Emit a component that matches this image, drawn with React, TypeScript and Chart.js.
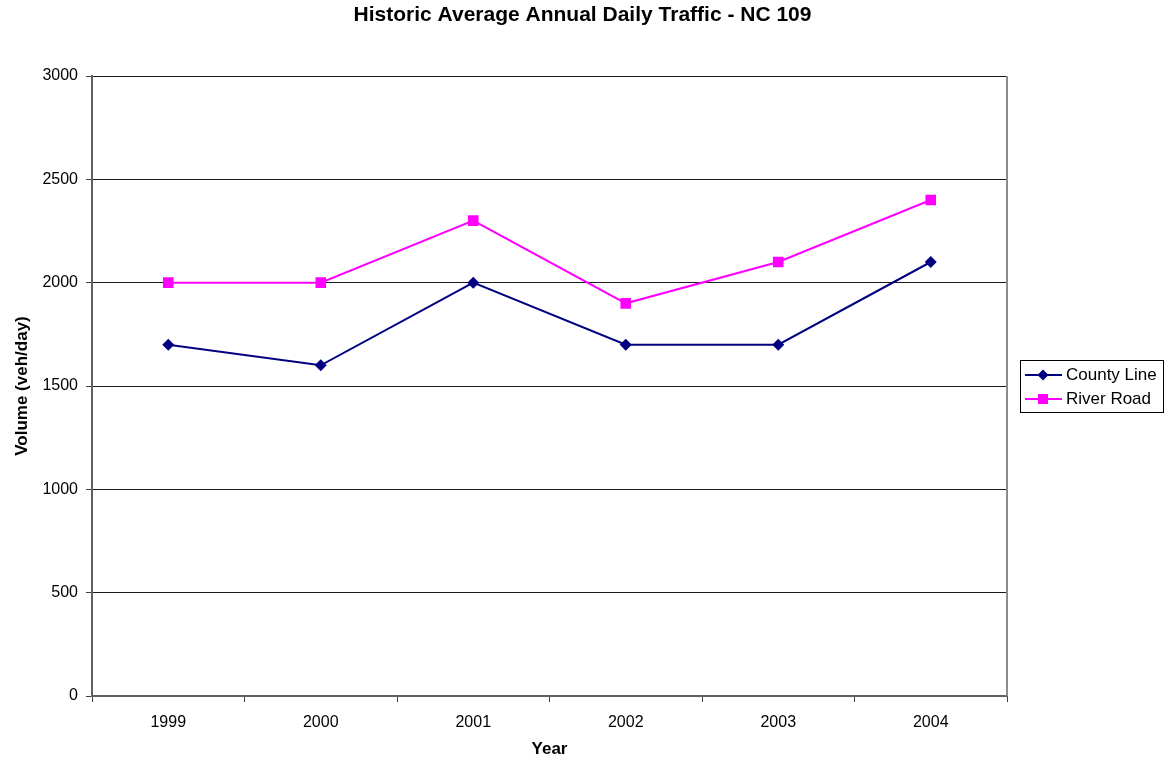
import React, { useEffect, useRef } from "react";
import { Chart, registerables } from "chart.js";

Chart.register(...registerables);

const years = ["1999", "2000", "2001", "2002", "2003", "2004"];
const countyLine = [1700, 1600, 2000, 1700, 1700, 2100];
const riverRoad = [2000, 2000, 2300, 1900, 2100, 2400];
const seriesNames = ["County Line", "River Road"];
const titleText = "Historic Average Annual Daily Traffic - NC 109";
const yTitle = "Volume (veh/day)";
const xTitle = "Year";

const NAVY = "#000080";
const MAGENTA = "#FF00FF";
const FONT = "'Liberation Sans', Arial, sans-serif";

const decorPlugin = {
  id: "decor",
  afterDraw(chart: any) {
    const ctx = chart.ctx;
    const area = chart.chartArea;
    ctx.save();
    // right border of plot area
    ctx.strokeStyle = "#8c8c8c";
    ctx.lineWidth = 2;
    ctx.beginPath();
    ctx.moveTo(area.right, area.top);
    ctx.lineTo(area.right, area.bottom);
    ctx.stroke();

    // title
    ctx.fillStyle = "#000";
    ctx.font = `bold 21px ${FONT}`;
    ctx.textAlign = "center";
    ctx.textBaseline = "middle";
    ctx.fillText(titleText, chart.width / 2, 15);

    // legend
    const lx = 1020, ly = 360, lw = 143, lh = 52;
    ctx.strokeStyle = "#000";
    ctx.lineWidth = 1;
    ctx.strokeRect(lx + 0.5, ly + 0.5, lw, lh);
    const rows = [
      { name: seriesNames[0], color: NAVY, y: 375, shape: "diamond" },
      { name: seriesNames[1], color: MAGENTA, y: 399, shape: "square" },
    ];
    rows.forEach((r) => {
      ctx.strokeStyle = r.color;
      ctx.fillStyle = r.color;
      ctx.lineWidth = 2;
      ctx.beginPath();
      ctx.moveTo(1025, r.y);
      ctx.lineTo(1062, r.y);
      ctx.stroke();
      const cx = 1043;
      ctx.beginPath();
      if (r.shape === "diamond") {
        ctx.moveTo(cx, r.y - 5.5);
        ctx.lineTo(cx + 5.5, r.y);
        ctx.lineTo(cx, r.y + 5.5);
        ctx.lineTo(cx - 5.5, r.y);
        ctx.closePath();
      } else {
        ctx.rect(cx - 5, r.y - 5, 10, 10);
      }
      ctx.fill();
      ctx.fillStyle = "#000";
      ctx.font = `17px ${FONT}`;
      ctx.textAlign = "left";
      ctx.textBaseline = "middle";
      ctx.fillText(r.name, 1066, r.y);
    });
    ctx.restore();
  },
};

export default function App() {
  const ref = useRef<HTMLCanvasElement>(null);
  useEffect(() => {
    if (!ref.current) return;
    const chart = new Chart(ref.current, {
      type: "line",
      data: {
        labels: years,
        datasets: [
          {
            label: seriesNames[0],
            data: countyLine,
            borderColor: NAVY,
            backgroundColor: NAVY,
            borderWidth: 2,
            pointStyle: "rectRot",
            pointRadius: 6,
            pointHoverRadius: 6,
            pointBorderWidth: 0,
            tension: 0,
          },
          {
            label: seriesNames[1],
            data: riverRoad,
            borderColor: MAGENTA,
            backgroundColor: MAGENTA,
            borderWidth: 2,
            pointStyle: "rect",
            pointRadius: 7.5,
            pointHoverRadius: 7.5,
            pointBorderWidth: 0,
            tension: 0,
          },
        ],
      },
      options: {
        animation: false,
        responsive: false,
        events: [],
        layout: { padding: { top: 76, right: 158, bottom: 0, left: 0 } },
        plugins: {
          legend: { display: false },
          title: { display: false },
          tooltip: { enabled: false },
        },
        scales: {
          x: {
            type: "category",
            offset: true,
            afterFit(scale: any) {
              scale.height = 67;
            },
            grid: {
              offset: true,
              drawOnChartArea: false,
              drawTicks: true,
              tickLength: 6,
              tickColor: "#404040",
              tickWidth: 1,
            },
            border: { display: true, color: "#606060", width: 2 },
            ticks: {
              color: "#000",
              font: { family: FONT, size: 16 },
              padding: 11,
              maxRotation: 0,
            },
            title: {
              display: true,
              text: xTitle,
              color: "#000",
              font: { family: FONT, size: 17, weight: "bold" },
              padding: { top: 0, bottom: 3 },
            },
          },
          y: {
            min: 0,
            max: 3000,
            afterFit(scale: any) {
              scale.width = 92;
            },
            grid: {
              color: "#1a1a1a",
              lineWidth: 1,
              drawTicks: true,
              tickLength: 6,
              tickColor: "#404040",
            },
            border: { display: true, color: "#606060", width: 2 },
            ticks: {
              stepSize: 500,
              color: "#000",
              font: { family: FONT, size: 16 },
              padding: 8,
              callback: (v: any) => String(v),
            },
            title: {
              display: true,
              text: yTitle,
              color: "#000",
              font: { family: FONT, size: 17, weight: "bold" },
              padding: { top: 12, bottom: 0 },
            },
          },
        },
      },
      plugins: [decorPlugin],
    } as any);
    return () => chart.destroy();
  }, []);
  return (
    <div style={{ position: "fixed", left: 0, top: 0, width: 1165, height: 763, background: "#fff" }}>
      <canvas ref={ref} width={1165} height={763} style={{ display: "block" }} />
    </div>
  );
}
